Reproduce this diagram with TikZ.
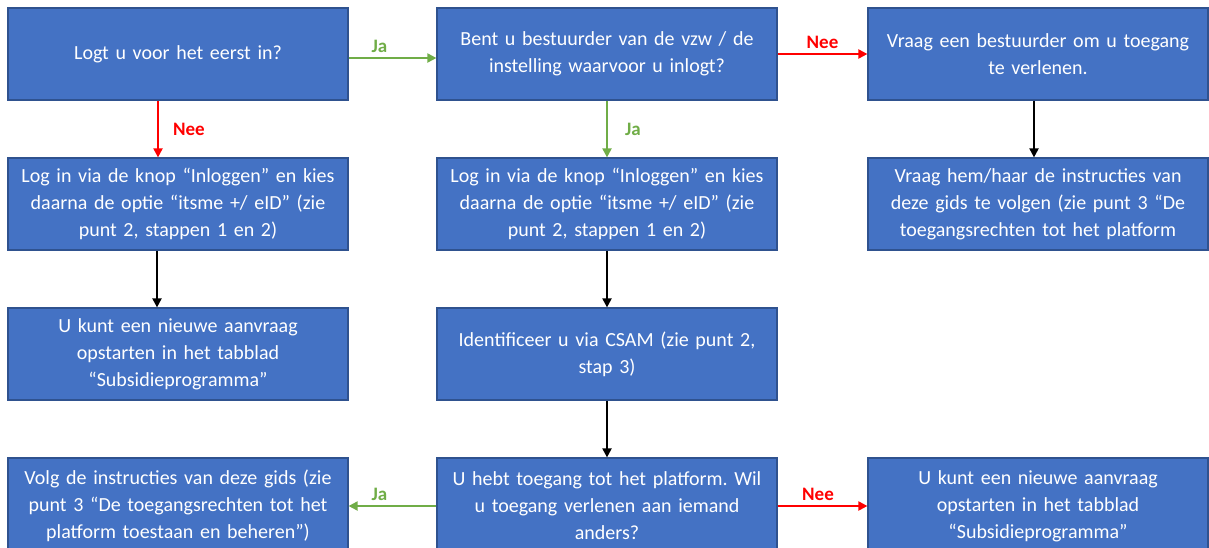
\documentclass[tikz,border=0pt]{standalone}
\usepackage{fontspec}
\setmainfont{Carlito}
\usepackage{xcolor}
\usetikzlibrary{arrows.meta,positioning}

\definecolor{boxblue}{HTML}{4472C4}
\definecolor{boxline}{HTML}{2F528F}
\definecolor{jagreen}{HTML}{70AD47}
\definecolor{neered}{HTML}{FF0000}

\frenchspacing
\newcommand{\boxfont}{\fontsize{20}{27}\selectfont\spaceskip=3.6pt plus 1pt minus 1pt\relax}

\begin{document}
\begin{tikzpicture}[
  x=1pt, y=-1pt,
  node distance=56.8pt and 87.8pt,
  box/.style={draw=boxline, line width=1.2pt, fill=boxblue, text=white,
    minimum width=340pt, minimum height=92pt, text width=330pt,
    align=center, font=\boxfont},
  arr/.style={-{Triangle[length=9pt, width=9pt]}, line width=2pt},
  ja/.style={arr, jagreen},
  nee/.style={arr, neered},
  lbl/.style={font=\fontsize{19}{22}\selectfont\bfseries, inner sep=1pt}
]
  \useasboundingbox (0,0) rectangle (1209,547);

  % row 1
  \node[box] (logt) at (178,54) {Logt u voor het eerst in?};
  \node[box, right=of logt] (bestuurder) {Bent u bestuurder van de vzw / de\\instelling waarvoor u inlogt?};
  \node[box, right=89.8pt of bestuurder] (vraag) {Vraag een bestuurder om u toegang\\te verlenen.};

  % row 2
  \node[box, below=of logt] (login1) {Log in via de knop “Inloggen” en kies\\daarna de optie “itsme +/ eID” (zie\\punt 2, stappen 1 en 2)};
  \node[box, below=of bestuurder] (login2) {Log in via de knop “Inloggen” en kies\\daarna de optie “itsme +/ eID” (zie\\punt 2, stappen 1 en 2)};
  \node[box, below=of vraag] (instr) {Vraag hem/haar de instructies van\\deze gids te volgen (zie punt 3 “De\\toegangsrechten tot het platform};

  % row 3
  \node[box, below=of login1] (aanvraag) {U kunt een nieuwe aanvraag\\opstarten in het tabblad\\“Subsidieprogramma”};
  \node[box, below=of login2] (csam) {Identificeer u via CSAM (zie punt 2,\\stap 3)};

  % row 4
  \node[box, minimum height=96pt, below=of csam] (toegang) {U hebt toegang tot het platform. Wil\\u toegang verlenen aan iemand\\anders?};
  \node[box, minimum height=96pt, left=of toegang] (volg) {Volg de instructies van deze gids (zie\\punt 3 “De toegangsrechten tot het\\platform toestaan en beheren”)};
  \node[box, minimum height=96pt, right=89.8pt of toegang] (aanvraag2) {U kunt een nieuwe aanvraag\\opstarten in het tabblad\\“Subsidieprogramma”};

  \draw[ja] ([yshift=-4pt]logt.east) -- node[lbl, above=3pt, pos=0.35, text=jagreen] {Ja} ([yshift=-4pt]bestuurder.west);
  \draw[nee] (bestuurder) -- node[lbl, above=3pt, text=neered] {Nee} (vraag);
  \draw[nee] ([xshift=-20pt]logt.south) -- node[lbl, right=13pt, text=neered] {Nee} ([xshift=-20pt]login1.north);
  \draw[ja] (bestuurder) -- node[lbl, right=16pt, text=jagreen] {Ja} (login2);
  \draw[arr] ([xshift=-4pt]vraag.south) -- ([xshift=-4pt]instr.north);
  \draw[arr] ([xshift=-21pt]login1.south) -- ([xshift=-21pt]aanvraag.north);
  \draw[arr] (login2) -- (csam);
  \draw[arr] (csam) -- (toegang);
  \draw[ja] (toegang) -- node[lbl, above=3pt, pos=0.65, text=jagreen] {Ja} (volg);
  \draw[nee] (toegang) -- node[lbl, above=3pt, pos=0.45, text=neered] {Nee} (aanvraag2);
\end{tikzpicture}
\end{document}
